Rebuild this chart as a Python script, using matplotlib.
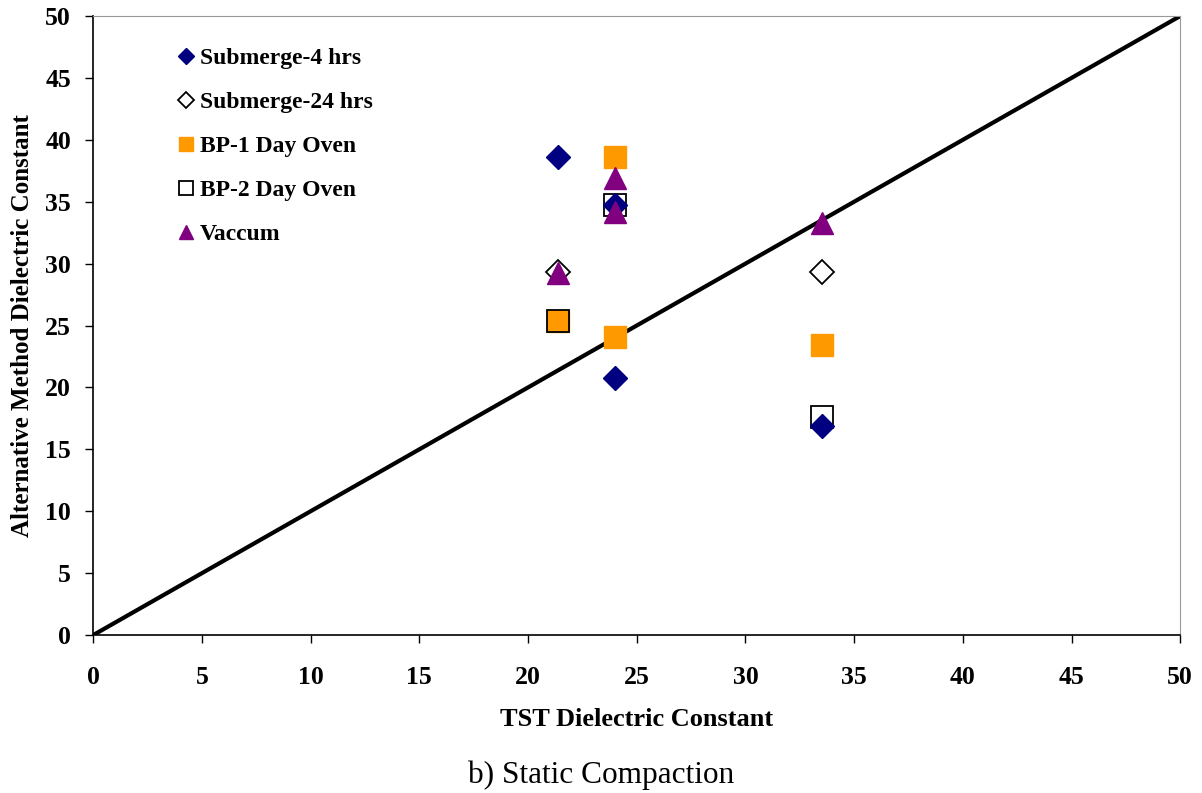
import matplotlib.pyplot as plt

plt.rcParams['font.family'] = ['Liberation Serif', 'DejaVu Serif']

# data
sub4_x = [21.4, 24.0, 24.0, 33.5]
sub4_y = [38.6, 34.7, 20.8, 16.9]
sub24_x = [21.4, 33.5]
sub24_y = [29.35, 29.35]
bp1_x = [21.4, 24.0, 24.0, 33.5]
bp1_y = [25.4, 38.6, 24.1, 23.4]
bp2_x = [21.4, 24.0, 33.5]
bp2_y = [25.4, 34.7, 17.65]
vac_x = [21.4, 24.0, 24.0, 33.5]
vac_y = [29.25, 36.9, 34.2, 33.3]
line_x = [0, 50]
line_y = [0, 50]
ticks = list(range(0, 51, 5))

fig = plt.figure(figsize=(12.02, 7.93), dpi=100)
ax = fig.add_axes([0.0776, 0.1992, 0.9043, 0.7806])

ax.plot(line_x, line_y, color='black', lw=3, zorder=1, solid_capstyle='round')
ax.plot(bp1_x, bp1_y, 's', ms=15.5, color='#FF9900', mec='#FF9900', zorder=2,
        label='BP-1 Day Oven')
ax.plot(bp2_x, bp2_y, 's', ms=15.5, mfc='none', mec='black', mew=1.3, zorder=3,
        label='BP-2 Day Oven')
ax.plot(sub24_x, sub24_y, 'D', ms=12.5, mfc='white', mec='black', mew=1.3, zorder=4,
        label='Submerge-24 hrs')
ax.plot(sub4_x, sub4_y, 'D', ms=12.5, color='#000080', zorder=5,
        label='Submerge-4 hrs')
ax.plot(vac_x, vac_y, '^', ms=16, color='#800080', zorder=6, label='Vaccum')

ax.set_xlim(0, 50)
ax.set_ylim(0, 50)
ax.set_xticks(ticks)
ax.set_yticks(ticks)
ax.tick_params(direction='out', length=6, width=1, labelsize=18.5)
ax.tick_params(axis='x', pad=16)
ax.tick_params(axis='y', pad=10)
for lbl in ax.get_xticklabels() + ax.get_yticklabels():
    lbl.set_fontweight('bold')
ax.spines['top'].set_color('#999999')
ax.spines['right'].set_color('#999999')
ax.spines['left'].set_linewidth(1.2)
ax.spines['bottom'].set_linewidth(1.2)

ax.set_xlabel('TST Dielectric Constant', fontsize=19, fontweight='bold', labelpad=14)
ax.set_ylabel('Alternative Method Dielectric Constant', fontsize=18, fontweight='bold',
              labelpad=8)

h, l = ax.get_legend_handles_labels()
order = [3, 2, 0, 1, 4]
ax.legend([h[i] for i in order], [l[i] for i in order], loc='upper left',
          bbox_to_anchor=(0.06, 0.983), frameon=False, markerscale=0.65,
          handlelength=0.5, handletextpad=0.35, labelspacing=0.95,
          prop={'size': 17, 'weight': 'bold'})

fig.text(0.5, 0.013, 'b) Static Compaction', ha='center', fontsize=22.5)

fig.savefig('out.png', dpi=100)
